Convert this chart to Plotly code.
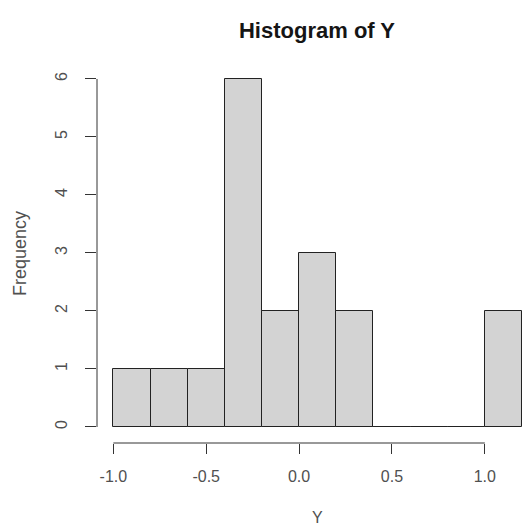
import plotly.graph_objects as go

# Data
bin_edges = [-1.0, -0.8, -0.6, -0.4, -0.2, 0.0, 0.2, 0.4, 0.6, 0.8, 1.0, 1.2]
counts = [1, 1, 1, 6, 2, 3, 2, 0, 0, 0, 2]
x_ticks = [-1.0, -0.5, 0.0, 0.5, 1.0]
x_tick_labels = ["-1.0", "-0.5", "0.0", "0.5", "1.0"]
y_ticks = [0, 1, 2, 3, 4, 5, 6]
y_tick_labels = ["0", "1", "2", "3", "4", "5", "6"]

centers = [(a + b) / 2 for a, b in zip(bin_edges[:-1], bin_edges[1:])]
widths = [b - a for a, b in zip(bin_edges[:-1], bin_edges[1:])]

W, H = 522, 527
L, R, T, B = 97, 0, 65, 84
FONT = "Liberation Sans, Arial, sans-serif"
TXT = "#505050"

fig = go.Figure()
fig.add_trace(go.Bar(
    x=centers, y=counts, width=widths,
    marker=dict(color="#D3D3D3", line=dict(color="#222222", width=1)),
    hoverinfo="x+y",
))

fig.update_layout(
    width=W, height=H,
    margin=dict(l=L, r=R, t=T, b=B, pad=0),
    paper_bgcolor="white", plot_bgcolor="white",
    showlegend=False,
    font=dict(family=FONT, size=16, color=TXT),
    bargap=0,
    xaxis=dict(
        range=[-1.088, 1.2], showgrid=False, zeroline=False, showline=False,
        tickmode="array", tickvals=x_ticks, ticktext=x_tick_labels,
        ticks="outside", ticklen=10, tickwidth=1, tickcolor="#333333",
        ticklabelstandoff=9,
        tickfont=dict(family=FONT, size=16, color=TXT),
    ),
    yaxis=dict(
        range=[-0.276, 6.241], showgrid=False, zeroline=False, showline=False,
        tickmode="array", tickvals=y_ticks, ticktext=y_tick_labels,
        ticks="outside", ticklen=11, tickwidth=1, tickcolor="#333333",
        tickangle=-90, ticklabelstandoff=12,
        tickfont=dict(family=FONT, size=16, color=TXT),
    ),
    title=dict(
        text="<b>Histogram of Y</b>", xref="container", x=317.0 / W, xanchor="center",
        yref="container", y=1 - 30 / H, yanchor="middle",
        font=dict(family=FONT, size=22, color="#151515"),
    ),
)

# Axis lines spanning the tick range (R style)
fig.add_shape(type="line", xref="x", yref="paper", x0=min(x_ticks), x1=max(x_ticks),
              y0=0, y1=0, line=dict(color="#333333", width=1))
fig.add_shape(type="line", xref="paper", yref="y", x0=0, x1=0,
              y0=min(y_ticks), y1=max(y_ticks), line=dict(color="#333333", width=1))

# Axis titles
fig.add_annotation(text="Y", xref="paper", yref="paper", x=(317.0 - L) / (W - L),
                   y=-(517 - (H - B)) / (H - T - B),
                   showarrow=False, xanchor="center", yanchor="middle",
                   font=dict(family=FONT, size=16, color=TXT))
fig.add_annotation(text="Frequency", xref="paper", yref="paper", x=-(L - 20) / (W - L), y=0.5,
                   showarrow=False, xanchor="center", yanchor="middle", textangle=-90,
                   font=dict(family=FONT, size=18, color=TXT))

fig.write_html("out.html", config={"displayModeBar": False},
               post_script="document.body.style.margin='0';document.body.style.overflow='hidden';")
